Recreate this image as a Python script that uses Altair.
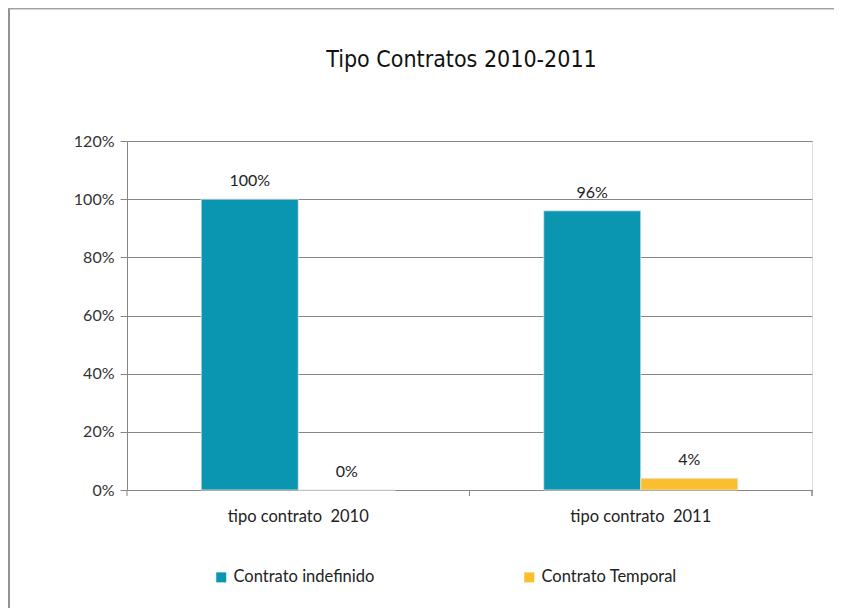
import altair as alt
import pandas as pd

titulo = "Tipo Contratos 2010-2011"
categorias = ["tipo contrato\u00a0\u00a02010", "tipo contrato\u00a0\u00a02011"]
series = ["Contrato indefinido", "Contrato Temporal"]
indefinido = [1.00, 0.96]
temporal = [0.00, 0.04]
colores = ["#0A95B0", "#FBBE2C"]
y_ticks = [0, 0.2, 0.4, 0.6, 0.8, 1.0, 1.2]

rows = []
for i, c in enumerate(categorias):
    rows.append({"cat": c, "serie": series[0], "valor": indefinido[i]})
    rows.append({"cat": c, "serie": series[1], "valor": temporal[i]})
df = pd.DataFrame(rows)

W, H = 685, 349
FONT = "Lato"

x_enc = alt.X("cat:N", sort=categorias, title=None,
              scale=alt.Scale(paddingInner=0, paddingOuter=0),
              axis=alt.Axis(labelAngle=0, ticks=False, domainColor="#868686",
                            labelFontSize=16.5, labelColor="#222", labelPadding=18,
                            labelFont=FONT))
xoff = alt.XOffset("serie:N", sort=series,
                   scale=alt.Scale(paddingOuter=0.765, paddingInner=0))

bars = alt.Chart(df).mark_bar(stroke="#e6e6e6", strokeWidth=0.8).encode(
    x=x_enc,
    xOffset=xoff,
    y=alt.Y("valor:Q", title=None,
            scale=alt.Scale(domain=[0, 1.2], nice=False),
            axis=alt.Axis(values=y_ticks, format=".0%", grid=True, gridColor="#868686",
                          domainColor="#868686", tickColor="#868686", tickSize=7,
                          labelFontSize=16, labelColor="#333", labelPadding=6,
                          labelFont=FONT)),
    color=alt.Color("serie:N", sort=series,
                    scale=alt.Scale(domain=series, range=colores),
                    legend=alt.Legend(title=None, orient="none", direction="horizontal",
                                      legendX=86, legendY=428, symbolType="square",
                                      symbolSize=100, symbolStrokeWidth=0,
                                      labelFontSize=16.5, labelFont=FONT, labelColor="#222",
                                      columnPadding=146, labelOffset=4)),
)

labels = alt.Chart(df).mark_text(baseline="bottom", dy=-10, fontSize=16,
                                 font=FONT, color="#222").encode(
    x=alt.X("cat:N", sort=categorias),
    xOffset=xoff,
    y="valor:Q",
    text=alt.Text("valor:Q", format=".0%"),
)

tick_df = pd.DataFrame({"cat": categorias})
xticks = alt.Chart(tick_df).mark_rule(color="#868686").encode(
    x=alt.X("cat:N", sort=categorias, bandPosition=0),
    y=alt.value(H), y2=alt.value(H + 6),
)
xtick_end = alt.Chart(tick_df).mark_rule(color="#868686").encode(
    x=alt.value(W), y=alt.value(H), y2=alt.value(H + 6),
)

frame_left = alt.Chart(tick_df).mark_rule(color="#8c8c8c", strokeWidth=1.5, clip=False).encode(
    x=alt.value(-118), x2=alt.value(-118), y=alt.value(-133), y2=alt.value(H + 118),
)
frame_top = alt.Chart(tick_df).mark_rule(color="#a0a0a0", strokeWidth=1.5, clip=False).encode(
    x=alt.value(-118.5), x2=alt.value(W + 22), y=alt.value(-132.5), y2=alt.value(-132.5),
)

title_df = pd.DataFrame({"t": [titulo]})
title_mark = alt.Chart(title_df).mark_text(
    font="DejaVu Sans Condensed", fontSize=23, color="#111",
    align="center", baseline="alphabetic", clip=False,
).encode(text="t:N", x=alt.value(334.5), y=alt.value(-74))

chart = alt.layer(bars, labels, xticks, xtick_end, frame_left, frame_top, title_mark).properties(
    width=W, height=H,
    autosize=alt.AutoSizeParams(type="none"),
    padding={"left": 119, "top": 133, "right": 23, "bottom": 118},
).configure_view(stroke=None).configure(background="white")

chart.save("out.html", embed_options={"renderer": "svg", "actions": False})
